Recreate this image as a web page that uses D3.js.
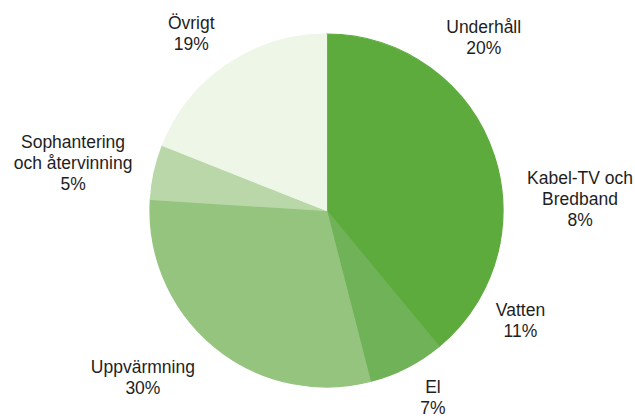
<html>
  <head>
    <meta charset="utf-8">
    <style>
      body { margin: 0; background: #fff; }
      .label {
        font-family: "Liberation Sans", Arial, sans-serif;
        font-size: 17.5px;
        fill: #1e1e1e;
      }
    </style>
  </head>
<body>
  <svg width="635" height="419"></svg>
  <script src="https://d3js.org/d3.v7.min.js"></script>
  <script>
    // slices, clockwise from 12 o'clock
    var categories = ["Underhåll", "Kabel-TV och Bredband", "Vatten", "El", "Uppvärmning", "Sophantering och återvinning", "Övrigt"];
    var values = [20, 8, 11, 7, 30, 5, 19];
    var labelLines = [
      ["Underhåll"],
      ["Kabel-TV och", "Bredband"],
      ["Vatten"],
      ["El"],
      ["Uppvärmning"],
      ["Sophantering", "och återvinning"],
      ["Övrigt"]
    ];
    var colors = ["#5dab3d", "#5dab3d", "#5dab3d", "#70b257", "#95c47f", "#b9d7a8", "#eef6e7"];

    // label nudges off the outer label arc
    var nudge = [[22, 13], [24, 3], [-4, -7], [2, -18], [-37, -10], [-29, 3], [-6, 13]];

    var svg = d3.select("svg");
    var cx = 326.5, cy = 210.5, radius = 176.5;
    var g = svg.append("g").attr("transform", "translate(" + cx + "," + cy + ")");

    var pie = d3.pie().sort(null).value(function(d) { return d; });
    var arcs = pie(values);

    var arc = d3.arc().innerRadius(0).outerRadius(radius);
    var labelArc = d3.arc().innerRadius(230).outerRadius(230);

    g.selectAll("path.slice")
      .data(arcs)
      .enter().append("path")
        .attr("class", "slice")
        .attr("d", arc)
        .attr("fill", function(d, i) { return colors[i]; })
        .attr("stroke", function(d, i) { return colors[i]; })
        .attr("stroke-width", 1.2)
        .attr("stroke-linejoin", "round");

    var lineH = 21;
    var labels = g.selectAll("text.label")
      .data(arcs)
      .enter().append("text")
        .attr("class", "label")
        .attr("text-anchor", "middle")
        .attr("transform", function(d, i) {
          var c = labelArc.centroid(d);
          return "translate(" + (c[0] + nudge[i][0]) + "," + (c[1] + nudge[i][1]) + ")";
        });

    labels.each(function(d, i) {
      var lines = labelLines[i].concat([values[i] + "%"]);
      var t = d3.select(this);
      var top = -(lines.length - 1) * lineH / 2;
      lines.forEach(function(s, k) {
        t.append("tspan")
          .attr("x", 0)
          .attr("y", top + k * lineH)
          .attr("dy", "0.35em")
          .text(s);
      });
    });
  </script>
  </body>
</html>
